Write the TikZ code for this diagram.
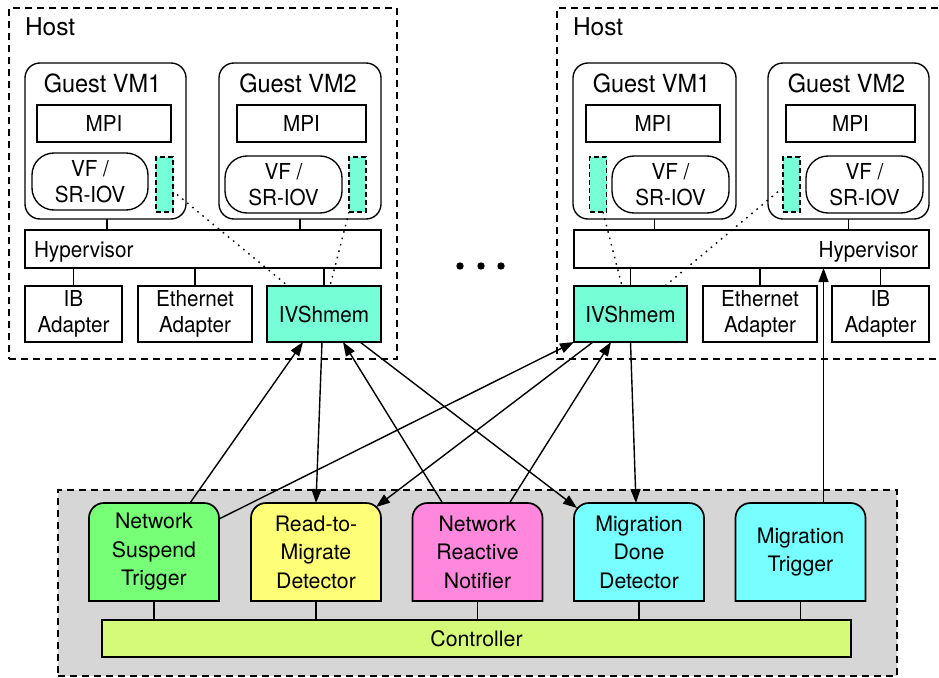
\documentclass[tikz,border=0pt]{standalone}
\usepackage{fontspec}
\setmainfont{TeX Gyre Heros}
\newfontfamily\condfont[FakeStretch=0.94]{TeX Gyre Heros}
\usetikzlibrary{arrows.meta,calc}
\pgfdeclarelayer{bgA}
\pgfdeclarelayer{bgB}
\pgfsetlayers{bgA,bgB,main}
\definecolor{shm}{RGB}{118,255,214}
\definecolor{cgreen}{RGB}{119,255,119}
\definecolor{cyellow}{RGB}{255,255,119}
\definecolor{cpink}{RGB}{255,136,221}
\definecolor{ccyan}{RGB}{119,255,255}
\definecolor{cctrl}{RGB}{212,250,119}
\definecolor{cgray}{RGB}{214,214,214}
\newcommand\fsA{\condfont\fontsize{22}{26.5}\selectfont}
\newcommand\fsB{\fontsize{21.3}{28.5}\selectfont}
\newcommand\fsH{\fontsize{24.5}{28}\selectfont}
\newcommand\fsG{\condfont\fontsize{25}{28}\selectfont}
\newcommand\topbox[2]{%
\begin{pgfonlayer}{bgB}
\draw[line width=1.7pt, fill=#2] (#1.south west) -- ([yshift=-15pt]#1.north west)
  arc[start angle=180,end angle=90,radius=15pt] -- ([xshift=-15pt]#1.north east)
  arc[start angle=90,end angle=0,radius=15pt] -- (#1.south east) -- cycle;
\end{pgfonlayer}}
\tikzset{
  every node/.style={inner sep=0pt, outer sep=0pt},
  lbl/.style={font=\fsA, align=center},
  box/.style={draw, line width=1.35pt, lbl},
  vmbox/.style={draw, line width=1.35pt, rounded corners=15pt},
  vfbox/.style={box, rounded corners=22pt, minimum width=117pt, minimum height=57pt},
  mpibox/.style={box, minimum height=37pt},
  shmslot/.style={draw, fill=shm, line width=1.2pt, dash pattern=on 5pt off 3pt, minimum width=17pt, minimum height=55pt},
  adbox/.style={box, minimum height=56pt},
  hostbox/.style={draw, line width=1.3pt, dash pattern=on 7pt off 5pt},
  link/.style={line width=1.1pt},
  dotlink/.style={line width=1.4pt, dash pattern=on 1.6pt off 5pt},
  arr/.style={line width=1.4pt, -{Triangle[length=14pt,width=10pt]}},
  modbox/.style={font=\fsB, align=center, minimum width=130pt, minimum height=98pt},
}
\begin{document}
\begin{tikzpicture}[x=1pt,y=-1pt]
\useasboundingbox (0,0) rectangle (939,677);

% ================= left host =================
\node[hostbox, minimum width=388pt, minimum height=351pt] (hostL) at (203,183.5) {};
\node[font=\fsH, anchor=base west] (hostLlab) at (25,36) {Host};

\node[vmbox, minimum width=161pt, minimum height=156pt] (VM1L) at (105.5,141) {};
\node[font=\fsG, anchor=base] (VM1Llab) at (102.5,92.5) {Guest VM1};
\node[mpibox, minimum width=134pt] (MPI1L) at (104,123.5) {MPI};
\node[vfbox, minimum width=116pt] (VF1L) at (90,181.5) {VF /\\SR-IOV};
\node[shmslot] (T1L) at (164.5,184.5) {};

\node[vmbox, minimum width=162pt, minimum height=156pt] (VM2L) at (300,141) {};
\node[font=\fsG, anchor=base] (VM2Llab) at (298,92.5) {Guest VM2};
\node[mpibox, minimum width=129pt] (MPI2L) at (301.5,123.5) {MPI};
\node[vfbox] (VF2L) at (283.5,184.5) {VF /\\SR-IOV};
\node[shmslot] (T2L) at (357.5,184.5) {};

\node[box, minimum width=356pt, minimum height=38pt] (HypL) at (203,249) {};
\node[lbl, anchor=base west] (HypLlab) at (34,257) {Hypervisor};

\node[adbox, minimum width=97pt] (IBL) at (73.5,314) {IB\\Adapter};
\node[adbox, minimum width=114pt] (EthL) at (195,314) {Ethernet\\Adapter};
\node[adbox, minimum width=114pt, fill=shm] (IVL) at (324,314) {IVShmem};

\draw[link] ([xshift=1.5pt]VM1L.south) -- ([xshift=1.5pt]VM1L.south |- HypL.north);
\draw[link] (VM2L.south) -- (VM2L.south |- HypL.north);
\draw[link] (IBL.north) -- (IBL.north |- HypL.south);
\draw[link] (EthL.north) -- (EthL.north |- HypL.south);
\draw[link] (IVL.north) -- (IVL.north |- HypL.south);

\draw[dotlink] ([xshift=4pt,yshift=-10pt]T1L.east) -- ([xshift=-36pt]IVL.north);
\draw[dotlink] (T2L.south west) -- ([xshift=6pt]IVL.north);

% ================= right host =================
\draw[hostbox] (950,8) -- (557,8) -- (557,359) -- (950,359);
\node[font=\fsH, anchor=base west] (hostRlab) at (573,36) {Host};

\node[vmbox, minimum width=163pt, minimum height=156pt] (VM1R) at (654.5,141) {};
\node[font=\fsG, anchor=base] (VM1Rlab) at (651.5,92.5) {Guest VM1};
\node[mpibox, minimum width=134pt] (MPI1R) at (653,123.5) {MPI};
\node[shmslot] (T1R) at (598,184.5) {};
\node[vfbox] (VF1R) at (670.5,184.5) {VF /\\SR-IOV};

\node[vmbox, minimum width=161pt, minimum height=156pt] (VM2R) at (848.5,141) {};
\node[font=\fsG, anchor=base] (VM2Rlab) at (846.5,92.5) {Guest VM2};
\node[mpibox, minimum width=129pt] (MPI2R) at (850.5,123.5) {MPI};
\node[shmslot] (T2R) at (791.5,184.5) {};
\node[vfbox] (VF2R) at (864.5,184.5) {VF /\\SR-IOV};

\node[box, minimum width=355pt, minimum height=38pt] (HypR) at (751.5,249) {};
\node[lbl, anchor=base east] (HypRlab) at (918,257) {Hypervisor};

\node[adbox, minimum width=113pt, fill=shm] (IVR) at (630.5,314) {IVShmem};
\node[adbox, minimum width=114pt] (EthR) at (760,314) {Ethernet\\Adapter};
\node[adbox, minimum width=97pt] (IBR) at (880.5,314) {IB\\Adapter};

\draw[link] (VM1R.south) -- (VM1R.south |- HypR.north);
\draw[link] (VM2R.south) -- (VM2R.south |- HypR.north);
\draw[link] (IVR.north) -- (IVR.north |- HypR.south);
\draw[link] (EthR.north) -- (EthR.north |- HypR.south);
\draw[link] (IBR.north) -- (IBR.north |- HypR.south);

\draw[dotlink] ([xshift=5pt]T1R.south) -- ([xshift=-8.5pt]IVR.north);
\draw[dotlink] ([yshift=-3pt]T2R.west) -- ([xshift=34.5pt]IVR.north);

% dots
\fill (460,266) circle[radius=3.7pt] (481,266) circle[radius=3.7pt] (501,266) circle[radius=3.7pt];

% ================= controller area =================
\begin{pgfonlayer}{bgA}
\node[draw, fill=cgray, line width=1.5pt, dash pattern=on 7pt off 5pt,
      minimum width=839pt, minimum height=186pt] (ctrlArea) at (477.5,583) {};
\end{pgfonlayer}

\node[modbox] (NST) at (154,552) {Network\\Suspend\\Trigger};
\node[modbox] (RTM) at (316,552) {Read-to-\\Migrate\\Detector};
\node[modbox] (NRN) at (477.5,552) {Network\\Reactive\\Notifier};
\node[modbox] (MDD) at (639,552) {Migration\\Done\\Detector};
\node[modbox] (MT)  at (800.5,552) {Migration\\Trigger};
\topbox{NST}{cgreen}
\topbox{RTM}{cyellow}
\topbox{NRN}{cpink}
\topbox{MDD}{ccyan}
\topbox{MT}{ccyan}

\node[draw, fill=cctrl, line width=1.4pt, font=\fsB, minimum width=749pt, minimum height=37pt] (CTRL) at (476.5,638.5) {Controller};

\foreach \m in {NST,RTM,NRN,MDD,MT}
  \draw[link] (\m.south) -- (\m.south |- CTRL.north);

% ================= arrows =================
\draw[arr] ([xshift=36pt]NST.north) -- ([xshift=-21pt]IVL.south);
\draw[arr] ([xshift=-2pt]IVL.south) -- (RTM.north);
\draw[arr] ([xshift=-35pt]NRN.north) -- ([xshift=19pt]IVL.south);
\draw[arr] ([xshift=36pt]IVL.south) -- ([xshift=3pt,yshift=-5pt]MDD.north west);

\draw[arr] ([yshift=-16pt]NST.north east) -- (IVR.south west);
\draw[arr] ([xshift=-37.5pt]IVR.south) -- ([xshift=-5pt,yshift=-4pt]RTM.north east);
\draw[arr] ([xshift=32pt]NRN.north) -- ([xshift=-19.5pt]IVR.south);
\draw[arr] (IVR.south) -- ([xshift=-3pt]MDD.north);
\draw[arr] ([xshift=23pt]MT.north) -- ([xshift=23pt]MT.north |- HypR.south);

\end{tikzpicture}
\end{document}
